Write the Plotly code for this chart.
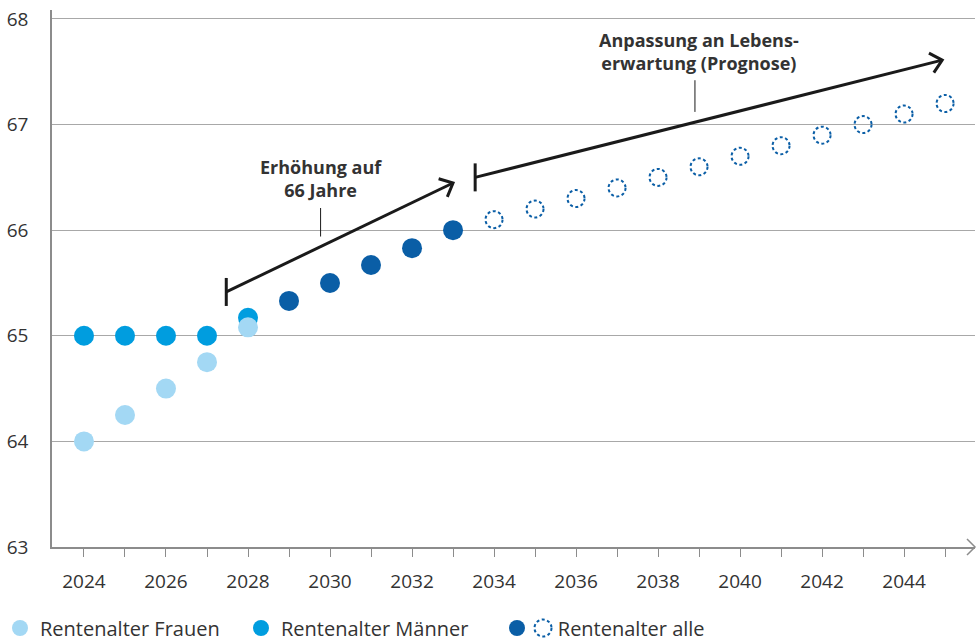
import math
import plotly.graph_objects as go

# ---------------- data ----------------
years_frauen = [2024, 2025, 2026, 2027, 2028]
age_frauen = [64.0, 64.25, 64.5, 64.75, 65.08]

years_maenner = [2024, 2025, 2026, 2027, 2028]
age_maenner = [65.0, 65.0, 65.0, 65.0, 65.17]

years_alle = [2029, 2030, 2031, 2032, 2033]
age_alle = [65.33, 65.5, 65.67, 65.83, 66.0]

years_prognose = [2034, 2035, 2036, 2037, 2038, 2039, 2040, 2041, 2042, 2043, 2044, 2045]
age_prognose = [66.1, 66.2, 66.3, 66.4, 66.5, 66.6, 66.7, 66.8, 66.9, 67.0, 67.1, 67.2]

tick_years = list(range(2024, 2046))
tick_labels = [str(y) if y % 2 == 0 else "" for y in tick_years]
y_ticks = [63, 64, 65, 66, 67, 68]

label_frauen = "Rentenalter Frauen"
label_maenner = "Rentenalter Männer"
label_alle = "Rentenalter alle"
note_1 = "<b>Erhöhung auf<br>66 Jahre</b>"
note_2 = "<b>Anpassung an Lebens-<br>erwartung (Prognose)</b>"

# ---------------- style ----------------
C_FRAUEN = "#a3d8f4"
C_MAENNER = "#009ddf"
C_ALLE = "#0a5ea6"
C_GRID = "#a8a8a8"
C_AXIS = "#8c8c8c"
C_TEXT = "#333333"
C_ARROW = "#1a1a1a"
FONT = "Open Sans"
MS = 20

W, H = 980, 641
ML, MR, MT, MB = 52, 5, 10, 94
XR = [2023.22, 2045.73]
YR = [63.0, 68.085]

fig = go.Figure()
fig.add_trace(go.Scatter(x=years_maenner, y=age_maenner, mode="markers", name=label_maenner,
                         marker=dict(size=MS, color=C_MAENNER), legendrank=2, legendwidth=211))
fig.add_trace(go.Scatter(x=years_frauen, y=age_frauen, mode="markers", name=label_frauen,
                         marker=dict(size=MS, color=C_FRAUEN), legendrank=1, legendwidth=196))
fig.add_trace(go.Scatter(x=years_alle, y=age_alle, mode="markers",
                         name="\u00a0\u00a0\u00a0\u00a0" + label_alle,
                         marker=dict(size=MS, color=C_ALLE), legendrank=3))
fig.add_trace(go.Scatter(x=years_prognose, y=age_prognose, mode="markers", showlegend=False,
                         marker=dict(size=18, color="rgba(0,0,0,0)")))

shapes = []
# dashed forecast circles (anchored at data values, pixel sized)
for xv, yv in zip(years_prognose, age_prognose):
    shapes.append(dict(type="circle", xref="x", yref="y", xsizemode="pixel", ysizemode="pixel",
                       xanchor=xv, yanchor=yv, x0=-8.5, x1=8.5, y0=-8.5, y1=8.5,
                       line=dict(color=C_ALLE, width=2, dash="3px,2.5px"), layer="above"))


def arrow(tx, ty, hx, hy):
    """arrow from tail (tx,ty) to head (hx,hy) in data coords, with tail bar and open head"""
    out = [dict(type="line", xref="x", yref="y", x0=tx, y0=ty, x1=hx, y1=hy,
                line=dict(color=C_ARROW, width=3))]
    out.append(dict(type="path", xref="x", yref="y", xsizemode="pixel", ysizemode="pixel",
                    xanchor=tx, yanchor=ty, path="M0,-14 L0,14",
                    line=dict(color=C_ARROW, width=3)))
    pw = W - ML - MR
    ph = H - MT - MB
    dxp = (hx - tx) / (XR[1] - XR[0]) * pw
    dyp = (hy - ty) / (YR[1] - YR[0]) * ph
    ang = math.atan2(dyp, dxp)
    L = 15
    a1 = ang + math.pi - math.radians(42)
    a2 = ang + math.pi + math.radians(42)
    p = "M%.2f,%.2f L0,0 L%.2f,%.2f" % (L * math.cos(a1), L * math.sin(a1),
                                        L * math.cos(a2), L * math.sin(a2))
    out.append(dict(type="path", xref="x", yref="y", xsizemode="pixel", ysizemode="pixel",
                    xanchor=hx, yanchor=hy, path=p, line=dict(color=C_ARROW, width=3)))
    return out


shapes += arrow(2027.47, 65.415, 2033.0, 66.447)
shapes += arrow(2033.54, 66.50, 2044.93, 67.61)
# leader ticks
shapes.append(dict(type="line", xref="x", yref="y", x0=2029.77, x1=2029.77, y0=65.94, y1=66.21,
                   line=dict(color=C_ARROW, width=1)))
shapes.append(dict(type="line", xref="x", yref="y", x0=2038.9, x1=2038.9, y0=67.12, y1=67.42,
                   line=dict(color=C_ARROW, width=1)))
# x-axis arrow head
shapes.append(dict(type="path", xref="paper", yref="paper", xsizemode="pixel", ysizemode="pixel",
                   xanchor=1.0, yanchor=0.0, path="M-8,8 L0,0 L-8,-8",
                   line=dict(color=C_AXIS, width=1.5)))
# dashed circle in legend
shapes.append(dict(type="circle", xref="paper", yref="paper", xsizemode="pixel", ysizemode="pixel",
                   xanchor=(543 - ML) / (W - ML - MR), yanchor=(H - MB - 628) / (H - MT - MB),
                   x0=-8.5, x1=8.5, y0=-8.5, y1=8.5,
                   line=dict(color=C_ALLE, width=2, dash="3px,2.5px")))

annotations = [
    dict(x=2029.77, y=66.49, xref="x", yref="y", text=note_1, showarrow=False,
         font=dict(family=FONT, size=18, color=C_TEXT), align="center"),
    dict(x=2038.99, y=67.69, xref="x", yref="y", text=note_2, showarrow=False,
         font=dict(family=FONT, size=18, color=C_TEXT), align="center"),
]

fig.update_layout(
    width=W, height=H,
    margin=dict(l=ML, r=MR, t=MT, b=MB, pad=0),
    paper_bgcolor="white", plot_bgcolor="white",
    font=dict(family=FONT, size=19, color=C_TEXT),
    shapes=shapes, annotations=annotations,
    showlegend=True,
    legend=dict(orientation="h", xref="container", yref="container", x=0.0, y=(H - 628) / H,
                xanchor="left", yanchor="middle", bgcolor="rgba(0,0,0,0)",
                font=dict(family=FONT, size=20, color=C_TEXT),
                itemsizing="trace", traceorder="normal"),
    xaxis=dict(range=XR, tickmode="array", tickvals=tick_years, ticktext=tick_labels,
               showgrid=False, zeroline=False, showline=True, linecolor=C_AXIS, linewidth=1.5,
               ticks="outside", ticklen=8, tickcolor=C_AXIS, tickwidth=1,
               tickfont=dict(family=FONT, size=19, color=C_TEXT), ticklabelstandoff=8),
    yaxis=dict(range=YR, tickmode="array", tickvals=y_ticks,
               showgrid=True, gridcolor=C_GRID, gridwidth=1, zeroline=False,
               showline=True, linecolor=C_AXIS, linewidth=1.5, ticks="",
               tickfont=dict(family=FONT, size=19, color=C_TEXT), ticklabelstandoff=18),
)

fig.write_html("out.html", post_script="document.body.style.margin='0';",
               config={"displayModeBar": False})
